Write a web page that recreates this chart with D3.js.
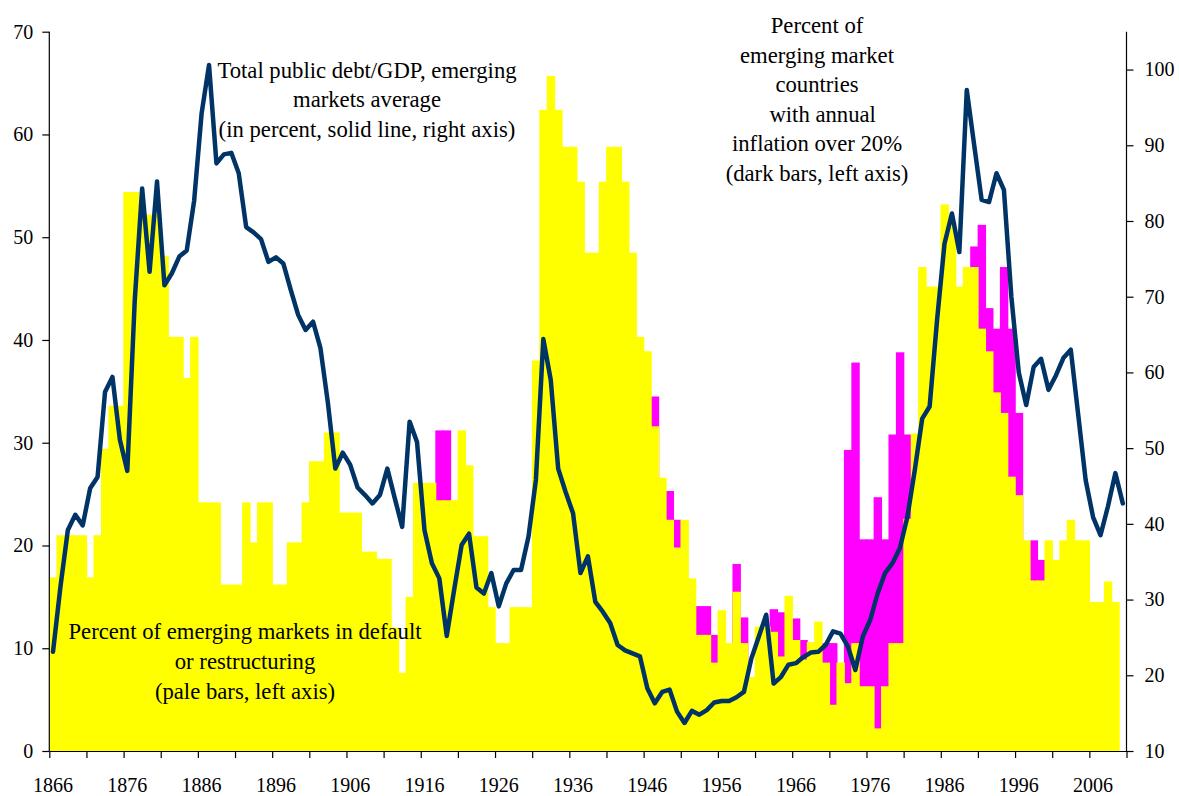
<!DOCTYPE html>
<html>
<head>
<meta charset="utf-8">
<script src="https://cdn.jsdelivr.net/npm/d3@7"></script>
<style>
html,body{margin:0;padding:0;background:#fff;}
svg{display:block;}
text{font-family:"Liberation Serif","Times New Roman",serif;fill:#000;}
</style>
</head>
<body>
<svg id="chart" width="1179" height="796"></svg>
<script>
// Categories: years 1866..2010
const firstYear = 1866, lastYear = 2010;
const years = d3.range(firstYear, lastYear + 1);

// Percent of emerging markets in default or restructuring (pale/yellow bars, left axis)
const defaultPct = [
  16.9,21.0,21.0,21.0,21.0,16.9,21.0,29.4,33.6,33.6, // 1866-1875
  54.4,54.4,52.2,52.2,52.2,48.2,40.3,40.3,36.3,40.3, // 1876-1885
  24.2,24.2,24.2,16.2,16.2,16.2,24.2,20.3,24.2,24.2, // 1886-1895
  16.2,16.2,20.3,20.3,24.2,28.2,28.2,31.0,31.0,23.2, // 1896-1905
  23.2,23.2,19.4,19.4,18.7,18.7,12.0,7.6,15.0,26.1,  // 1906-1915
  26.1,26.1,24.4,24.4,24.4,31.2,27.8,20.9,20.9,14.0, // 1916-1925
  10.5,10.5,14.0,14.0,14.0,38.0,62.4,65.7,62.4,58.8, // 1926-1935
  58.8,55.4,48.5,48.5,55.4,58.8,58.8,55.4,48.5,40.3, // 1936-1945
  38.9,31.6,26.6,22.5,19.8,22.5,16.8,11.3,11.3,8.6,  // 1946-1955
  13.7,10.5,15.5,10.5,7.2,12.1,12.1,11.6,9.2,15.1,   // 1956-1965
  10.8,8.9,10.6,12.6,8.6,4.5,8.6,6.6,10.5,6.3,       // 1966-1975
  6.3,2.2,6.3,10.5,10.5,22.6,30.9,47.1,45.2,45.2,    // 1976-1985
  53.2,51.5,45.2,47.1,47.1,41.1,38.9,34.9,32.9,26.7, // 1986-1995
  24.9,20.5,16.6,16.6,20.5,18.6,20.5,22.5,20.5,20.5, // 1996-2005
  14.5,14.5,16.5,14.5,null                           // 2006-2010
];

// Percent of emerging market countries with annual inflation over 20% (dark/magenta bars, left axis)
const inflationPct = [
  0,0,0,0,0,0,0,0,0,0,            // 1866-1875
  0,0,0,0,0,0,0,0,0,0,            // 1876-1885
  0,0,0,0,0,0,0,0,0,0,            // 1886-1895
  0,0,0,0,0,0,0,0,0,0,            // 1896-1905
  0,0,0,0,0,0,0,0,0,0,            // 1906-1915
  0,0,31.2,31.2,0,0,0,0,0,0,      // 1916-1925
  0,0,0,0,0,0,0,0,0,0,            // 1926-1935
  0,0,0,0,0,0,0,0,0,0,            // 1936-1945
  0,34.5,0,25.3,22.5,0,0,14.1,14.1,11.3,   // 1946-1955
  0,0,18.2,13.0,0,0,0,13.8,13.5,0,         // 1956-1965
  12.9,10.8,0,0,10.5,10.5,0,29.3,37.8,20.6,// 1966-1975
  20.6,24.7,20.6,30.8,38.8,30.8,0,0,0,0,   // 1976-1985
  0,0,0,0,49.1,51.2,43.1,41.1,47.1,41.1,   // 1986-1995
  32.9,0,20.5,18.6,0,0,0,0,0,0,            // 1996-2005
  0,0,0,0,0                                // 2006-2010
];

// Total public debt/GDP, emerging markets average (solid line, right axis)
const debtGDP = [
  23.1,31.7,39.2,41.2,39.8,44.7,46.2,57.4,59.4,51.1, // 1866-1875
  47.0,69.5,84.3,73.3,85.2,71.5,73.1,75.3,76.1,82.7, // 1876-1885
  94.2,100.6,87.6,88.8,89.0,86.3,79.2,78.5,77.6,74.6,// 1886-1895
  75.2,74.4,70.9,67.6,65.6,66.7,63.2,56.0,47.3,49.4, // 1896-1905
  47.8,44.8,43.8,42.7,43.8,47.3,43.4,39.6,53.5,50.8, // 1906-1915
  39.2,34.8,32.8,25.2,31.3,37.2,38.7,31.6,30.8,33.5, // 1916-1925
  29.1,32.1,33.9,33.9,38.3,45.8,64.4,59.0,47.3,44.2, // 1926-1935
  41.4,33.5,35.7,29.7,28.4,26.9,24.0,23.3,22.9,22.5, // 1936-1945
  18.3,16.3,17.8,18.1,15.2,13.7,15.3,14.8,15.4,16.4, // 1946-1955
  16.6,16.6,17.1,17.8,22.2,25.1,28.0,18.9,19.8,21.4, // 1956-1965
  21.6,22.4,23.0,23.1,24.0,25.8,25.5,23.8,20.7,25.1, // 1966-1975
  27.3,30.8,33.5,34.8,36.8,40.9,47.1,53.9,55.5,66.9, // 1976-1985
  77.0,81.0,75.9,97.3,90.0,82.8,82.5,86.3,84.1,70.0, // 1986-1995
  60.0,55.7,60.7,61.8,57.7,59.6,61.9,63.0,54.4,45.8, // 1996-2005
  40.9,38.5,42.3,46.7,42.7                           // 2006-2010
];

// Tick labels / ticks
const leftTicks = [0,10,20,30,40,50,60,70];
const rightTicks = [10,20,30,40,50,60,70,80,90,100];
const yearLabels = d3.range(1866, 2007, 10);
const yearTickMarks = d3.range(1866, 2012, 5);

// Annotations
const noteDebt = ["Total public debt/GDP, emerging", "markets average", "(in percent, solid line, right axis)"];
const noteInfl = ["Percent of", "emerging market", "countries", "  with annual", "inflation over 20%", "(dark bars, left axis)"];
const noteDef = ["Percent of emerging markets in default", "or restructuring", "(pale bars, left axis)"];

const svg = d3.select("#chart");
const X0 = 49.3, X1 = 1126.5, Y0 = 751, Y1 = 31.7;

const x = d3.scaleBand().domain(years).range([X0, X1]).padding(0);
const xb = d3.scaleLinear().domain([firstYear, lastYear + 1]).range([X0, X1]);
const yL = d3.scaleLinear().domain([0, 70]).range([Y0, Y1]);
const yR = d3.scaleLinear().domain([10, 105]).range([Y0, Y1]);
const bw = x.bandwidth();

const rows = years.map((yr, i) => ({yr, d: defaultPct[i], inf: inflationPct[i], debt: debtGDP[i]}));

// magenta bars (behind)
svg.append("g").selectAll("rect").data(rows.filter(r => r.inf)).join("rect")
  .attr("x", r => x(r.yr) - 0.3).attr("width", bw + 1)
  .attr("y", r => yL(r.inf)).attr("height", r => Y0 - yL(r.inf))
  .attr("fill", "#FF00FF");

// yellow bars
svg.append("g").selectAll("rect").data(rows.filter(r => r.d != null)).join("rect")
  .attr("x", r => x(r.yr) - 0.3).attr("width", bw + 1)
  .attr("y", r => yL(r.d)).attr("height", r => Y0 - yL(r.d))
  .attr("fill", "#FFFF00");

// axes
const fontSz = 20;
const gL = svg.append("g").attr("transform", `translate(${X0},0)`)
  .call(d3.axisLeft(yL).tickValues(leftTicks).tickSize(7).tickPadding(9).tickSizeOuter(0));
const gR = svg.append("g").attr("transform", `translate(${X1},0)`)
  .call(d3.axisRight(yR).tickValues(rightTicks).tickSize(7).tickPadding(11).tickSizeOuter(0));
const gXt = svg.append("g").attr("transform", `translate(0,${Y0})`)
  .call(d3.axisBottom(xb).tickValues(yearTickMarks).tickSize(7).tickFormat("").tickSizeOuter(0));
const gXl = svg.append("g").attr("transform", `translate(0,${Y0})`)
  .call(d3.axisBottom(x).tickValues(yearLabels).tickSize(0).tickPadding(27));
gXl.select(".domain").remove();
[gL, gR, gXt, gXl].forEach(g => {
  g.selectAll("text").attr("font-size", fontSz).attr("font-family", '"Liberation Serif", serif').attr("fill", "#000");
  g.selectAll("line,path").attr("stroke", "#000").attr("stroke-width", 1.2);
});
gL.select(".domain").attr("d", `M0,${Y0}V${Y1}`);
gR.select(".domain").attr("d", `M0,${Y0}V${Y1}`);

// debt line
const line = d3.line().x(r => x(r.yr) + bw / 2).y(r => yR(r.debt));
svg.append("path").datum(rows).attr("d", line)
  .attr("fill", "none").attr("stroke", "#003366").attr("stroke-width", 4.5)
  .attr("stroke-linejoin", "round").attr("stroke-linecap", "round");

// annotations
function note(lines, cx, y0, dy) {
  const t = svg.append("text").attr("font-size", 22.7).attr("text-anchor", "middle")
    .attr("xml:space", "preserve");
  lines.forEach((s, i) => t.append("tspan").attr("x", cx).attr("y", y0 + i * dy).text(s));
}
note(noteDebt, 367, 78, 29.3);
note(noteInfl, 817, 33, 29.6);
note(noteDef, 245, 639, 30);
</script>
</body>
</html>
